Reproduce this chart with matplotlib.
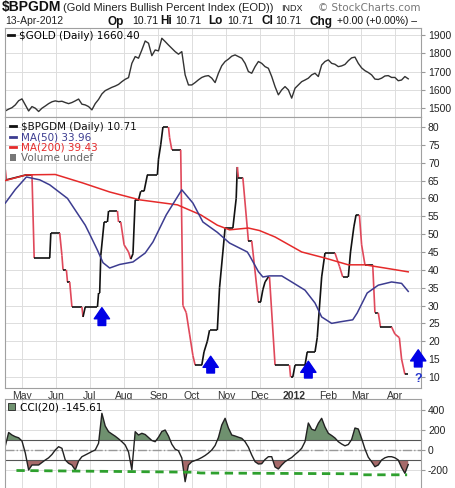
import matplotlib
matplotlib.use("Agg")
import matplotlib.pyplot as plt
import matplotlib.dates as mdates
from matplotlib.collections import LineCollection
from matplotlib.patches import ConnectionPatch, Rectangle, Patch
from matplotlib.lines import Line2D
import numpy as np
import pandas as pd

plt.rcParams['font.family'] = ['Liberation Sans', 'DejaVu Sans']
plt.rcParams['axes.unicode_minus'] = False

# $GOLD close and CCI(20), every 3 days from 16-Apr-2011
grid_start = "2011-04-16"
gold_close = [1485, 1495, 1503, 1518, 1541, 1551, 1518, 1485, 1509, 1500,
              1482, 1500, 1512, 1525, 1535, 1540, 1536, 1538, 1531, 1525,
              1531, 1540, 1550, 1522, 1518, 1509, 1491, 1525, 1548, 1578,
              1596, 1605, 1614, 1621, 1630, 1645, 1658, 1667, 1745, 1782,
              1773, 1818, 1867, 1855, 1787, 1818, 1813, 1882, 1864, 1845,
              1827, 1809, 1795, 1809, 1682, 1627, 1627, 1640, 1655, 1668,
              1675, 1678, 1664, 1640, 1691, 1732, 1755, 1768, 1784, 1791,
              1782, 1773, 1745, 1700, 1691, 1727, 1755, 1745, 1727, 1718,
              1673, 1618, 1573, 1600, 1618, 1600, 1555, 1609, 1627, 1645,
              1654, 1664, 1682, 1691, 1673, 1736, 1755, 1764, 1745, 1740,
              1727, 1731, 1739, 1759, 1775, 1779, 1745, 1720, 1705, 1695,
              1682, 1659, 1657, 1664, 1676, 1678, 1668, 1668, 1650, 1654,
              1673, 1660.40]
cci_values = [40, 175, 150, 133, 122, 90, -30, -200, -150, -150,
              -150, -125, -100, -78, -45, 0, 33, 17, -100, -133,
              -150, -200, -110, -67, -50, -33, -15, 0, 67, 367,
              240, 183, 160, 138, 112, 83, 50, -20, -200, 183,
              150, 167, 155, 125, 95, 83, 128, 185, 200, 140,
              58, 8, -8, -80, -317, -150, -117, -105, -92, -75,
              -55, -30, 0, 45, 125, 250, 317, 220, 150, 140,
              128, 117, 83, 28, -50, -117, -140, -137, -95, -67,
              -67, -170, -190, -150, -117, -95, -75, -45, -17, 17,
              83, 270, 208, 195, 267, 317, 230, 167, 145, 120,
              83, 60, 42, 55, 105, 220, 210, 115, 10, -72,
              -117, -167, -150, -100, -78, -67, -67, -78, -100, -175,
              -233, -145.61]

# $BPGDM turning points
bp_dates = ["2011-04-16", "2011-04-17", "2011-05-05", "2011-05-10", "2011-05-12", "2011-05-26", "2011-05-27", "2011-06-04", "2011-06-06", "2011-06-07", "2011-06-10",
            "2011-06-11", "2011-06-13", "2011-06-15", "2011-06-24", "2011-06-25", "2011-06-27", "2011-07-08", "2011-07-09", "2011-07-10", "2011-07-11",
            "2011-07-14", "2011-07-17", "2011-07-18", "2011-07-26", "2011-07-27", "2011-07-29", "2011-08-01", "2011-08-05", "2011-08-07", "2011-08-09",
            "2011-08-11", "2011-08-14", "2011-08-16", "2011-08-19", "2011-08-22", "2011-08-31", "2011-09-01", "2011-09-03", "2011-09-05", "2011-09-10",
            "2011-09-11", "2011-09-13", "2011-09-21", "2011-09-23", "2011-09-26", "2011-09-29", "2011-10-02", "2011-10-04", "2011-10-10", "2011-10-12",
            "2011-10-15", "2011-10-17", "2011-10-24", "2011-10-26", "2011-10-29", "2011-10-31", "2011-11-07", "2011-11-10", "2011-11-11", "2011-11-12",
            "2011-11-16", "2011-11-21", "2011-11-24", "2011-11-30", "2011-12-02", "2011-12-04", "2011-12-06", "2011-12-09", "2011-12-10", "2011-12-15",
            "2011-12-28", "2011-12-29", "2011-12-31", "2012-01-02", "2012-01-11", "2012-01-13", "2012-01-20", "2012-01-22", "2012-01-26", "2012-01-29",
            "2012-02-07", "2012-02-11", "2012-02-14", "2012-02-19", "2012-02-21", "2012-02-24", "2012-02-26", "2012-02-29", "2012-03-02", "2012-03-05",
            "2012-03-12", "2012-03-14", "2012-03-17", "2012-03-19", "2012-03-29", "2012-04-01", "2012-04-05", "2012-04-07", "2012-04-10", "2012-04-13"]
bp_values = [68, 65.2, 66.6, 66.6, 43.3, 43.3, 50.3, 50.3, 44, 40, 40,
             36.6, 36.6, 29.6, 29.6, 26.8, 29.6, 29.6, 33.5, 33.5, 44,
             53.4, 53.4, 56.5, 56.5, 53.4, 53.4, 47, 45, 43, 44.5,
             59.6, 59.6, 62, 62, 66.6, 66.6, 71, 75, 80, 80,
             77, 73.6, 73.6, 30, 28, 22, 16, 13.3, 13.3, 17,
             20, 23.1, 23.1, 35, 45, 51.7, 51.7, 60, 68.8, 65.8,
             65.8, 48.1, 48.1, 31, 31, 34.4, 36.6, 38, 38, 13.3,
             13.3, 10, 10, 13.3, 13.3, 17, 17, 21, 38, 44.7,
             44.7, 41, 38, 38, 45, 52, 55.4, 55.4, 47, 41.4,
             41.4, 28, 28, 24, 24, 22, 21, 15, 10.71, 10.71]

ma50_dates = ["2011-04-16", "2011-04-25", "2011-05-05", "2011-05-17", "2011-05-26", "2011-06-11", "2011-06-27", "2011-07-01", "2011-07-08", "2011-07-13",
              "2011-07-19", "2011-07-28", "2011-08-09", "2011-08-20", "2011-08-27", "2011-09-08", "2011-09-22", "2011-10-02", "2011-10-11", "2011-10-24",
              "2011-11-04", "2011-11-20", "2011-11-22", "2011-11-30", "2011-12-04", "2011-12-10", "2011-12-21", "2011-12-30", "2012-01-11", "2012-01-20",
              "2012-01-26", "2012-02-04", "2012-02-11", "2012-02-23", "2012-02-27", "2012-03-07", "2012-03-17", "2012-03-29", "2012-04-07", "2012-04-13"]
ma50_values = [58.7, 62.5, 66.0, 65.2, 63.8, 60.0, 52.5, 50.0, 45.5, 42.0,
               40.5, 41.5, 42.2, 44.7, 47.8, 55.4, 62.4, 58.7, 53.4, 50.5,
               47.5, 45.0, 44.0, 39.5, 38.0, 38.3, 38.3, 36.6, 34.3, 30.7,
               26.8, 25.0, 25.4, 26.0, 27.9, 33.5, 35.7, 36.6, 36.2, 33.96]

ma200_dates = ["2011-04-16", "2011-05-05", "2011-05-31", "2011-06-25", "2011-07-19", "2011-08-15", "2011-09-18", "2011-10-09", "2011-10-24", "2011-11-04",
               "2011-11-21", "2011-12-01", "2011-12-15", "2012-01-08", "2012-01-29", "2012-02-19", "2012-03-05", "2012-03-23", "2012-04-13"]
ma200_values = [65.0, 66.6, 66.7, 64.3, 61.8, 59.6, 58.2, 55.4, 52.5, 51.2,
                51.7, 51.0, 49.2, 45.0, 43.3, 41.4, 41.4, 40.5, 39.43]

# hand drawn annotations
link_gold_dates = ["2011-07-04", "2011-10-20", "2011-12-31", "2012-04-05"]
link_gold_values = [1495, 1627, 1556, 1638]
link_bp_dates = ["2011-06-25", "2011-10-06", "2012-01-02", "2012-04-12"]
link_bp_values = [26.8, 13.3, 10.3, 11.0]

arrow_dates = ["2011-07-12", "2011-10-18", "2012-01-14", "2012-04-22"]
arrow_base = [24.4, 11.1, 9.7, 12.8]
arrow_tip = [29.4, 15.8, 14.4, 17.6]

support_dates = ["2011-04-26", "2011-10-02", "2011-10-09", "2012-02-29", "2012-03-02", "2012-04-12"]
support_values = [-205, -222, -230, -238, -248, -248]

month_ticks = ["2011-05-01", "2011-06-01", "2011-07-01", "2011-08-01", "2011-09-01", "2011-10-01",
               "2011-11-01", "2011-12-01", "2012-01-01", "2012-02-01", "2012-03-01", "2012-04-01"]
month_labels = ["May", "Jun", "Jul", "Aug", "Sep", "Oct", "Nov", "Dec", "2012", "Feb", "Mar", "Apr"]

ma50_color = '#3c3c90'
ma200_color = '#e52a2a'
down_color = '#e0485a'
link_color = '#2ea02e'
grid_color = '#dddddd'
legend_font = {'family': 'DejaVu Sans', 'size': 7.5}

W, H = 455, 488


def fx(px):
    return px / W


def fy(py):
    return 1 - py / H


def style_axis(ax):
    ax.yaxis.tick_right()
    ax.tick_params(axis='y', direction='out', length=3, color='#999999',
                   labelsize=7.5, labelcolor='#222222', pad=2)
    ax.tick_params(axis='x', length=0, labelbottom=False)
    ax.grid(True, color=grid_color, lw=0.7)
    ax.set_axisbelow(True)
    for s in ax.spines.values():
        s.set_color('#a0a0a0')
        s.set_linewidth(0.8)


fig = plt.figure(figsize=(W / 100, H / 100), dpi=100)
ax_gold = fig.add_axes([fx(5), fy(117), 416 / W, 89 / H])
ax_main = fig.add_axes([fx(5), fy(388), 416 / W, 271 / H], sharex=ax_gold)
ax_cci = fig.add_axes([fx(5), fy(490), 416 / W, 91 / H], sharex=ax_gold)

grid_dates = pd.date_range(grid_start, periods=len(gold_close), freq="3D")
cci_dates = pd.date_range(grid_start, periods=len(cci_values), freq="3D")
ticks = pd.to_datetime(month_ticks)

# --- gold panel
ax_gold.plot(grid_dates, gold_close, color='#333333', lw=1.0)
ax_gold.set_ylim(1452, 1938)
ax_gold.set_yticks([1500, 1600, 1700, 1800, 1900])
style_axis(ax_gold)
ax_gold.legend([Line2D([], [], color='#111111', lw=2)], ["$GOLD (Daily) 1660.40"],
               loc='upper left', bbox_to_anchor=(0, 1), frameon=False, prop=legend_font,
               handlelength=0.6, handletextpad=0.5, borderpad=0.25, borderaxespad=0)

# --- BPGDM panel
ax_main.plot(pd.to_datetime(ma200_dates), ma200_values, color=ma200_color, lw=1.1, zorder=3)
ax_main.plot(pd.to_datetime(ma50_dates), ma50_values, color=ma50_color, lw=1.1, zorder=3)
bx = mdates.date2num(pd.to_datetime(bp_dates))
by = np.array(bp_values)
segs = np.stack([np.column_stack([bx[:-1], by[:-1]]), np.column_stack([bx[1:], by[1:]])], axis=1)
cols = [down_color if b < a else '#111111' for a, b in zip(by[:-1], by[1:])]
ax_main.add_collection(LineCollection(segs, colors=cols, linewidths=1.2, zorder=2))
ax_main.set_ylim(6.9, 82.8)
ax_main.set_yticks(range(10, 85, 5))
style_axis(ax_main)
ax_main.set_xticks(ticks)
ax_main.set_xticklabels(month_labels)
ax_main.tick_params(axis='x', labelbottom=True, labelsize=7.5, labelcolor='#333333', pad=2)
ax_main.get_xticklabels()[8].set_fontweight('bold')

leg = ax_main.legend([Line2D([], [], color='#111111', lw=2), Line2D([], [], color=ma50_color, lw=2),
                      Line2D([], [], color=ma200_color, lw=2), Rectangle((0, 0), 1, 1, fc='#777777')],
                     ["$BPGDM (Daily) 10.71", "MA(50) 33.96", "MA(200) 39.43", "Volume undef"],
                     loc='upper left', bbox_to_anchor=(0, 1), frameon=False, prop=legend_font,
                     handlelength=0.6, handletextpad=0.5, labelspacing=0.05, borderpad=0.45,
                     borderaxespad=0)
for t, c in zip(leg.get_texts(), ['#111111', ma50_color, ma200_color, '#666666']):
    t.set_color(c)

for d, lo, hi in zip(pd.to_datetime(arrow_dates), arrow_base, arrow_tip):
    ax_main.annotate("", xy=(d, hi), xytext=(d, lo), annotation_clip=False, zorder=6,
                     arrowprops=dict(arrowstyle="simple,head_length=0.8,head_width=1.1,tail_width=0.55",
                                     color='#0000e6', shrinkA=0, shrinkB=0))
ax_main.text(pd.Timestamp(arrow_dates[-1]), 9.5, "?", color='#2233cc', fontsize=9, fontweight='bold',
             ha='center', va='center', clip_on=False, zorder=6)

# --- CCI panel
cci = np.array(cci_values)
ax_cci.fill_between(cci_dates, cci, 100, where=cci >= 100, interpolate=True, color='#6f916f', lw=0)
ax_cci.fill_between(cci_dates, cci, -100, where=cci <= -100, interpolate=True, color='#a66a6a', lw=0)
ax_cci.axhline(100, color='#555555', lw=0.8)
ax_cci.axhline(-100, color='#555555', lw=0.8)
ax_cci.axhline(0, color='#999999', lw=1.0, ls='-.')
ax_cci.plot(cci_dates, cci, color='#222222', lw=1.0)
ax_cci.plot(pd.to_datetime(support_dates), support_values, color=link_color, lw=2.0, ls=(0, (3, 2)))
ax_cci.set_ylim(-400, 510)
ax_cci.set_yticks([-200, 0, 200, 400])
style_axis(ax_cci)
ax_cci.legend([Patch(fc='#6f916f', ec='#222222', lw=0.6)], ["CCI(20) -145.61"],
              loc='upper left', bbox_to_anchor=(0, 1), frameon=False, prop=legend_font,
              handlelength=0.7, handletextpad=0.4, borderpad=0.3, borderaxespad=0)

ax_gold.set_xticks(ticks)
ax_gold.set_xlim(pd.Timestamp("2011-04-15 17:00"), pd.Timestamp("2012-04-24 12:00"))

# green dashed links from gold lows to BPGDM lows
for gd, gv, bd, bv in zip(link_gold_dates, link_gold_values, link_bp_dates, link_bp_values):
    con = ConnectionPatch(xyA=(mdates.date2num(pd.Timestamp(gd)), gv), coordsA="data", axesA=ax_gold,
                          xyB=(mdates.date2num(pd.Timestamp(bd)), bv), coordsB="data", axesB=ax_main,
                          color=link_color, lw=0.9, ls=(0, (3, 2)), zorder=5)
    fig.add_artist(con)

# header
fig.text(fx(2), fy(11), "$BPGDM", fontsize=10, fontweight='bold', color='#111111', va='baseline')
fig.text(fx(63), fy(11), "(Gold Miners Bullish Percent Index (EOD))", fontsize=8, color='#222222', va='baseline')
fig.text(fx(281), fy(11), "INDX", fontsize=6.5, color='#222222', va='baseline')
fig.text(fx(318), fy(11), "\u00a9 StockCharts.com", fontsize=7.5, color='#777777', va='baseline',
         family='DejaVu Sans')
fig.text(fx(5), fy(24.5), "13-Apr-2012", fontsize=7.5, color='#222222', va='baseline')
header_items = [(108, "Op", True), (132, "10.71", False), (160, "Hi", True), (175, "10.71", False),
                (208, "Lo", True), (227, "10.71", False), (262, "Cl", True), (275, "10.71", False),
                (310, "Chg", True), (337, "+0.00 (+0.00%) \u2013", False)]
for x, s, bold in header_items:
    fig.text(fx(x), fy(24.5), s, fontsize=8.5 if bold else 7.5, fontweight='bold' if bold else 'normal',
             color='#111111', va='baseline')

fig.savefig("out.png", dpi=100)
